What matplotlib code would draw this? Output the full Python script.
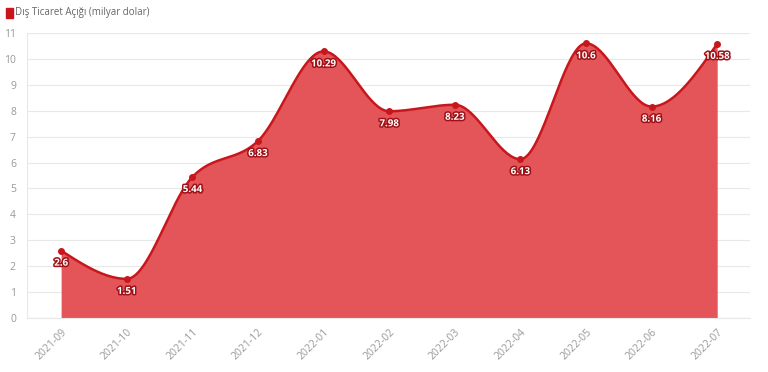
import numpy as np
import matplotlib
matplotlib.use("Agg")
import matplotlib.pyplot as plt
import matplotlib.patheffects as pe

categories = ["2021-09", "2021-10", "2021-11", "2021-12", "2022-01", "2022-02",
              "2022-03", "2022-04", "2022-05", "2022-06", "2022-07"]
values = [2.6, 1.51, 5.44, 6.83, 10.29, 7.98, 8.23, 6.13, 10.6, 8.16, 10.58]
series_name = "Dış Ticaret Açığı (milyar dolar)"

plt.rcParams['font.family'] = ['Open Sans', 'DejaVu Sans']

def monotone(x, y, n=40):
    x = np.asarray(x, float); y = np.asarray(y, float)
    N = len(x)
    h = np.diff(x); s = np.diff(y) / h
    m = np.zeros(N)
    for i in range(1, N - 1):
        p = (s[i-1]*h[i] + s[i]*h[i-1]) / (h[i-1] + h[i])
        m[i] = (np.sign(s[i-1]) + np.sign(s[i])) * min(abs(s[i-1]), abs(s[i]), 0.5*abs(p))
    m[0] = (3*s[0] - m[1]) / 2
    m[-1] = (3*s[-1] - m[-2]) / 2
    xs, ys = [], []
    for i in range(N - 1):
        t = np.linspace(0, 1, n, endpoint=(i == N - 2))
        h00 = 2*t**3 - 3*t**2 + 1; h10 = t**3 - 2*t**2 + t
        h01 = -2*t**3 + 3*t**2; h11 = t**3 - t**2
        xs.append(x[i] + t*h[i])
        ys.append(h00*y[i] + h10*h[i]*m[i] + h01*y[i+1] + h11*h[i]*m[i+1])
    return np.concatenate(xs), np.concatenate(ys)

fig = plt.figure(figsize=(7.68, 3.72), dpi=100)
ax = fig.add_axes([27/768, 1-318/372, (750-27)/768, (318-33)/372])

xi = np.arange(len(categories))
sx, sy = monotone(xi, values)
ax.fill_between(sx, 0, sy, color="#e34f52", alpha=0.97, lw=0, zorder=2)
ax.plot(sx, sy, color="#c8161d", lw=1.8, zorder=3)
ax.scatter(xi, values, s=16, color="#c8161d", zorder=4)

for x, v in zip(xi, values):
    ax.annotate(f"{v:g}", (x, v), xytext=(0, -9), textcoords="offset points",
                ha="center", va="center", fontsize=7, fontweight="bold", color="white",
                path_effects=[pe.withStroke(linewidth=2.2, foreground="#9e1116")], zorder=5)

ax.set_xlim(-0.52, 10.5)
ax.set_ylim(0, 11)
ax.set_yticks(range(0, 12))
ax.set_xticks(xi)
ax.set_xticklabels(categories, rotation=45, ha="right", rotation_mode="anchor")
ax.tick_params(axis="both", colors="#aaaaaa", labelsize=7.5, length=0)
ax.tick_params(axis="x", pad=6)
ax.tick_params(axis="y", pad=8)
for lab in ax.get_xticklabels() + ax.get_yticklabels():
    lab.set_color("#999999")
ax.grid(axis="y", color="#e8e8e8", lw=0.8, zorder=0)
ax.set_axisbelow(True)
for s in ["top", "right"]:
    ax.spines[s].set_visible(False)
ax.spines["left"].set_color("#e8e8e8")
ax.spines["bottom"].set_color("#e8e8e8")

fig.patches.append(plt.Rectangle((6/768, 1-18/372), 7/768, 10/372, transform=fig.transFigure,
                                 color="#c8161d", figure=fig))
fig.text(15/768, 1-13/372, series_name, fontsize=7, color="#666666", va="center", ha="left")

fig.savefig("out.png", dpi=100)
